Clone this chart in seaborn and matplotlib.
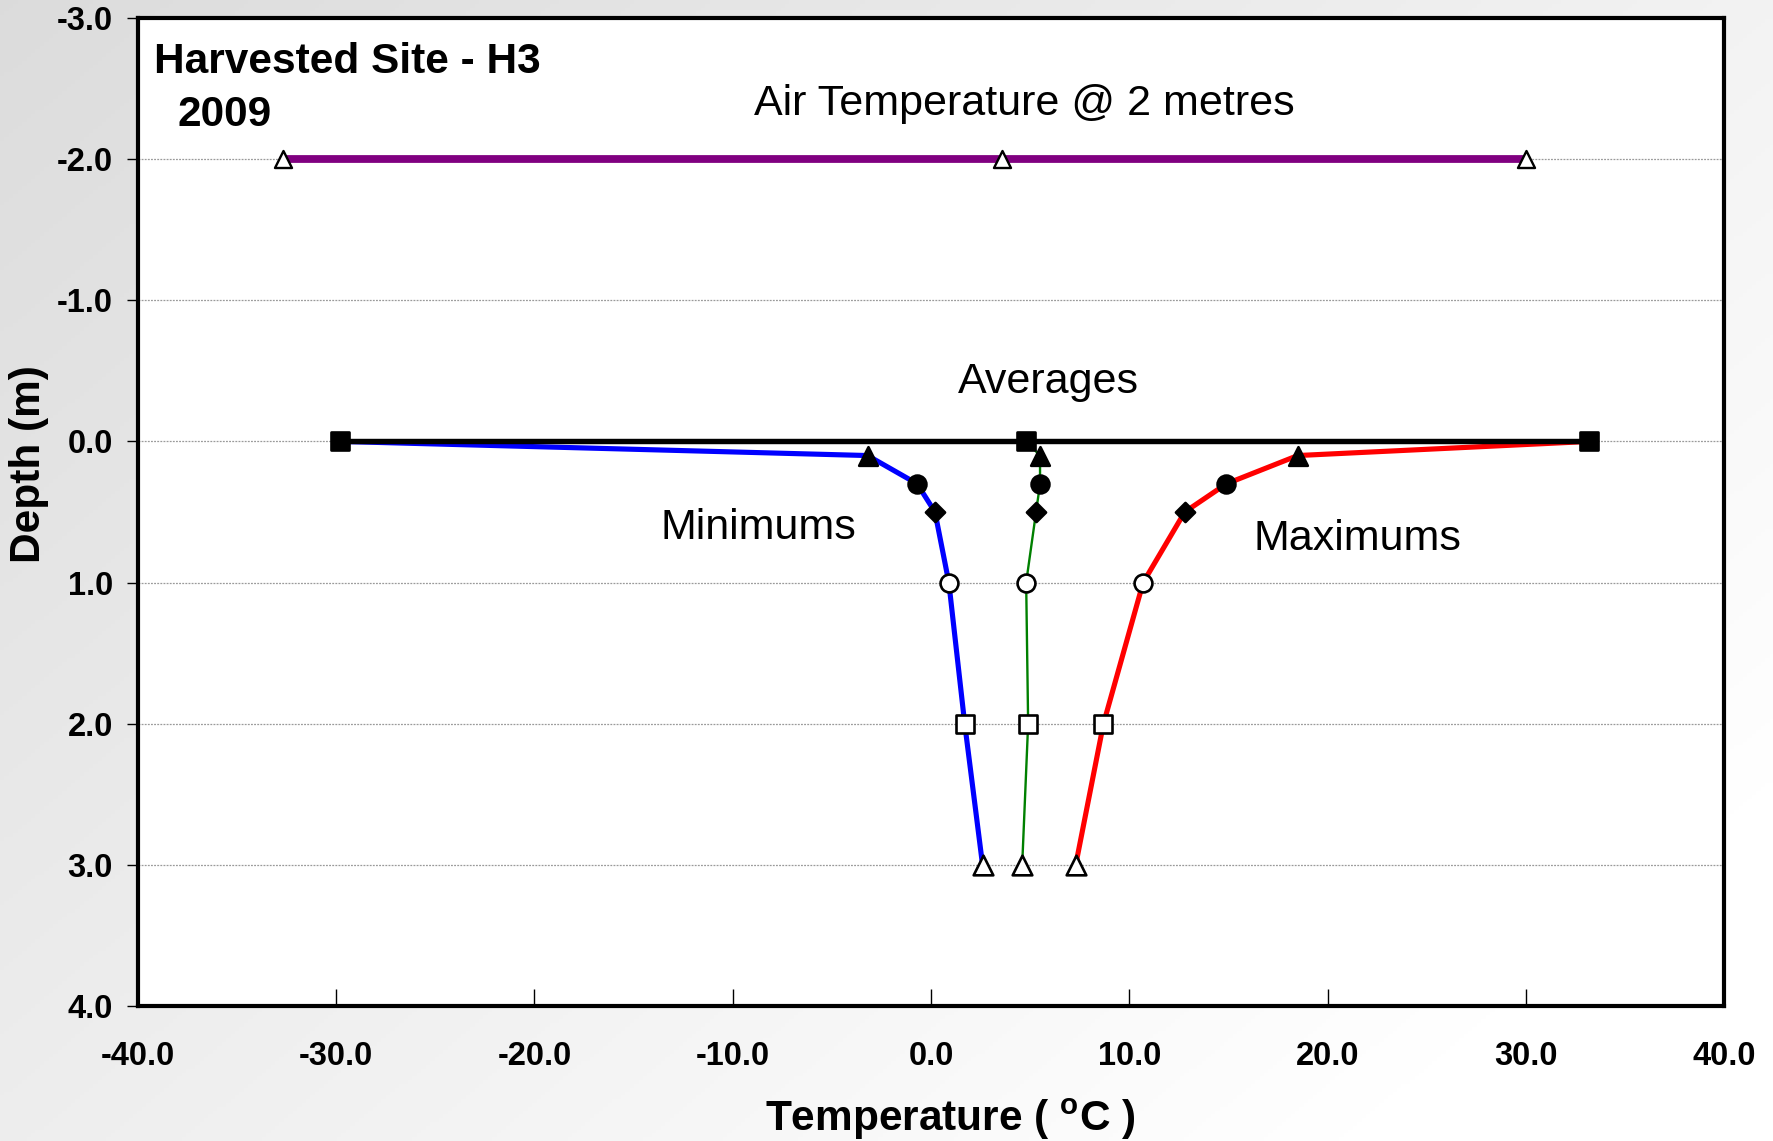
import numpy as np
import pandas as pd
import matplotlib
matplotlib.use("Agg")
import matplotlib.pyplot as plt
import seaborn as sns

# ---------------- data ----------------
depths = [0.0, 0.1, 0.3, 0.5, 1.0, 2.0, 3.0]
min_temp = [-29.8, -3.2, -0.7, 0.2, 0.9, 1.7, 2.6]
avg_temp = [4.8, 5.5, 5.5, 5.3, 4.8, 4.9, 4.6]
max_temp = [33.2, 18.5, 14.9, 12.8, 10.7, 8.7, 7.3]

air_temp = [-32.7, 3.6, 30.0]
air_depth = [-2.0, -2.0, -2.0]

surface_temp = [-29.8, 4.8, 33.2]
surface_depth = [0.0, 0.0, 0.0]

x_ticks = [-40, -30, -20, -10, 0, 10, 20, 30, 40]
y_ticks = [-3, -2, -1, 0, 1, 2, 3, 4]

# marker per depth: (marker, facecolor)
depth_markers = [("s", "black"), ("^", "black"), ("o", "black"), ("D", "black"),
                 ("o", "white"), ("s", "white"), ("^", "white")]
marker_sizes = [150, 180, 165, 95, 165, 150, 200]

# ---------------- style ----------------
sns.set_theme(style="white")
plt.rcParams["font.family"] = ["Liberation Sans", "DejaVu Sans"]
plt.rcParams["mathtext.fontset"] = "custom"
plt.rcParams["mathtext.rm"] = "Liberation Sans"
plt.rcParams["mathtext.bf"] = "Liberation Sans:bold"
for k in ["text.color", "axes.labelcolor", "xtick.color", "ytick.color", "axes.edgecolor"]:
    plt.rcParams[k] = "black"

W, H = 1774, 1141
fig = plt.figure(figsize=(W / 100, H / 100), dpi=100)

# gradient background
bg = fig.add_axes([0, 0, 1, 1], zorder=-10)
xx, yy = np.meshgrid(np.linspace(0, 1, 400), np.linspace(0, 1, 300))
grad = np.clip(0.862 + 0.09 * xx + 0.07 * yy, 0, 1)
bg.imshow(np.dstack([grad, grad, grad]), aspect="auto", extent=[0, 1, 1, 0])
bg.axis("off")

ax = fig.add_axes([138 / W, 1 - 1006 / H, (1724 - 138) / W, (1006 - 18) / H])
ax.set_facecolor("white")

df_min = pd.DataFrame({"temp": min_temp, "depth": depths})
df_avg = pd.DataFrame({"temp": avg_temp, "depth": depths})
df_max = pd.DataFrame({"temp": max_temp, "depth": depths})
df_air = pd.DataFrame({"temp": air_temp, "depth": air_depth})
df_surf = pd.DataFrame({"temp": surface_temp, "depth": surface_depth})

sns.lineplot(data=df_min, x="temp", y="depth", sort=False, estimator=None,
             color="#0000ff", linewidth=3.7, ax=ax, zorder=3)
sns.lineplot(data=df_max, x="temp", y="depth", sort=False, estimator=None,
             color="#ff0000", linewidth=3.7, ax=ax, zorder=3)
sns.lineplot(data=df_avg, x="temp", y="depth", sort=False, estimator=None,
             color="#008000", linewidth=1.7, ax=ax, zorder=3)
sns.lineplot(data=df_surf, x="temp", y="depth", sort=False, estimator=None,
             color="black", linewidth=3.9, ax=ax, zorder=4)
sns.lineplot(data=df_air, x="temp", y="depth", sort=False, estimator=None,
             color="#800080", linewidth=5.6, ax=ax, zorder=3)

for series in (df_min, df_avg, df_max):
    for i, (mk, fc) in enumerate(depth_markers):
        sns.scatterplot(x=[series["temp"][i]], y=[series["depth"][i]], marker=mk,
                        s=marker_sizes[i], color=fc, edgecolor="black",
                        linewidth=1.9, ax=ax, zorder=6, legend=False)

sns.scatterplot(data=df_air, x="temp", y="depth", marker="^", s=150,
                color="white", edgecolor="black", linewidth=1.7, ax=ax,
                zorder=6, legend=False)

# axes
ax.set_xlim(-40, 40)
ax.set_ylim(4, -3)
ax.set_xticks(x_ticks)
ax.set_yticks(y_ticks)
ax.set_xticklabels([f"{v:.1f}" for v in x_ticks])
ax.set_yticklabels([f"{v:.1f}" for v in y_ticks])
ax.tick_params(axis="x", direction="in", length=12, width=1, pad=25,
               labelsize=23.5, color="black", bottom=True)
ax.tick_params(axis="y", direction="out", length=8, width=1, pad=10,
               labelsize=23.5, color="black", left=True)
for lab in ax.get_xticklabels() + ax.get_yticklabels():
    lab.set_fontweight("bold")

for s in ax.spines.values():
    s.set_visible(True)
    s.set_color("black")
    s.set_linewidth(3.0)

for yv in [-2, -1, 0, 1, 2, 3]:
    ax.axhline(yv, color="#9a9a9a", linewidth=0.9, linestyle=(0, (1.5, 1)), zorder=1)
ax.grid(False)

ax.set_xlabel(r"Temperature ( $^{\mathbf{o}}$C )", fontsize=30.5, fontweight="bold")
ax.set_ylabel("Depth (m)", fontsize=30.5, fontweight="bold")
ax.xaxis.set_label_coords(0.512, -0.092)
ax.yaxis.set_label_coords(-0.056, 0.549)

# annotations
ax.text(-39.2, -2.69, "Harvested Site - H3", fontsize=30.5, fontweight="bold",
        ha="left", va="center")
ax.text(-38.0, -2.31, "2009", fontsize=30.5, fontweight="bold", ha="left", va="center")
ax.text(4.7, -2.39, "Air Temperature @ 2 metres", fontsize=31, ha="center", va="center")
ax.text(5.9, -0.42, "Averages", fontsize=31, ha="center", va="center")
ax.text(-8.7, 0.61, "Minimums", fontsize=31, ha="center", va="center")
ax.text(21.5, 0.69, "Maximums", fontsize=31, ha="center", va="center")

fig.savefig("out.png", dpi=100)
